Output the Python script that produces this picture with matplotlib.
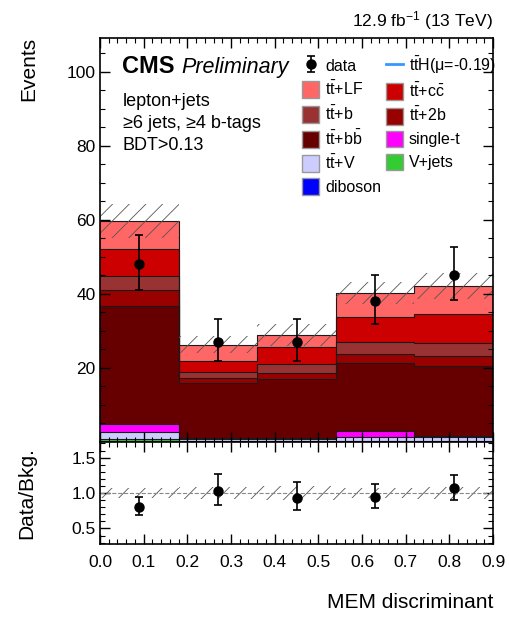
import numpy as np
import matplotlib
matplotlib.use('Agg')
import matplotlib.pyplot as plt
from matplotlib.patches import Patch
from matplotlib.lines import Line2D
from matplotlib.ticker import MultipleLocator, FixedLocator

plt.rcParams['font.family'] = ['Liberation Sans', 'DejaVu Sans']
plt.rcParams['mathtext.fontset'] = 'custom'
plt.rcParams['mathtext.rm'] = 'Liberation Sans'
plt.rcParams['mathtext.it'] = 'Liberation Sans:italic'
plt.rcParams['mathtext.bf'] = 'Liberation Sans:bold'
plt.rcParams['hatch.linewidth'] = 0.6

# MEM discriminant bins
edges = [0.0, 0.18, 0.36, 0.54, 0.72, 0.9]

# background components, bottom to top of the stack
diboson = [0.2, 0.05, 0.05, 0.05, 0.05]
vjets = [0.55, 0.1, 0.1, 0.1, 0.1]
ttv = [1.9, 0.75, 0.7, 1.1, 1.3]
single_t = [2.2, 0.3, 0.3, 1.8, 0.2]
tt_bb = [31.9, 14.8, 15.9, 18.4, 19.0]
tt_2b = [4.3, 1.4, 1.6, 2.3, 2.6]
tt_b = [3.8, 1.4, 2.3, 3.2, 3.5]
tt_cc = [7.3, 3.2, 4.7, 6.8, 7.7]
tt_lf = [7.5, 4.3, 3.3, 6.5, 7.8]
bkg_unc = [4.5, 2.3, 3.0, 3.1, 3.5]

# observed data
data = [48, 27, 27, 38, 45]
data_err_lo = [6.9, 5.2, 5.2, 6.2, 6.7]
data_err_hi = [8.0, 6.3, 6.3, 7.2, 7.8]

procs = [
    (diboson, '#0000FF', 'diboson'),
    (vjets, '#33CC33', 'V+jets'),
    (ttv, '#CCCCFF', r'$\mathrm{t\bar{t}}$+V'),
    (single_t, '#FF00FF', 'single-t'),
    (tt_bb, '#660000', r'$\mathrm{t\bar{t}}$+$\mathrm{b\bar{b}}$'),
    (tt_2b, '#990000', r'$\mathrm{t\bar{t}}$+2b'),
    (tt_b, '#993333', r'$\mathrm{t\bar{t}}$+b'),
    (tt_cc, '#CC0000', r'$\mathrm{t\bar{t}}$+$\mathrm{c\bar{c}}$'),
    (tt_lf, '#FF6666', r'$\mathrm{t\bar{t}}$+LF'),
]

edges = np.array(edges)
centers = 0.5 * (edges[1:] + edges[:-1])
cum = np.cumsum([np.array(p[0]) for p in procs], axis=0)
total = cum[-1]
unc = np.array(bkg_unc)

fig = plt.figure(figsize=(5.1, 6.21), dpi=100)
W, H = 510, 621
ax = fig.add_axes([100 / W, 1 - 442 / H, 393 / W, (442 - 37.7) / H])
rax = fig.add_axes([100 / W, 1 - 544 / H, 393 / W, (544 - 442) / H])

# stack: fill from the top cumulative down, then outlines
for i in range(len(procs) - 1, -1, -1):
    ax.stairs(cum[i], edges, baseline=0, fill=True, color=procs[i][1], lw=0)
for i in range(len(procs)):
    ax.stairs(cum[i], edges, baseline=None, color='#1a1a1a', lw=0.8)

ax.stairs(total + unc, edges, baseline=total - unc, fill=True, facecolor='none',
          edgecolor='#555555', hatch='//', lw=0)

derr = ax.errorbar(centers, data, yerr=[data_err_lo, data_err_hi], fmt='o', color='black',
                   ms=6.5, capsize=3, elinewidth=1.2, capthick=1.2)

ax.set_xlim(0, 0.9)
ax.set_ylim(0, 109.2)

# ratio panel
ratio = np.array(data) / total
rel = unc / total
rax.stairs(1 + rel, edges, baseline=1 - rel, fill=True, facecolor='none',
           edgecolor='#555555', hatch='//', lw=0)
rax.axhline(1.0, color='#888888', lw=0.8, ls='--')
rax.errorbar(centers, ratio, yerr=[np.array(data_err_lo) / total, np.array(data_err_hi) / total],
             fmt='o', color='black', ms=6.5, capsize=3, elinewidth=1.2, capthick=1.2)
rax.set_xlim(0, 0.9)
rax.set_ylim(0.28, 1.72)

for a in (ax, rax):
    a.tick_params(which='both', direction='in', top=True, right=True, labelsize=12.5)
    a.tick_params(which='major', length=7, width=1)
    a.tick_params(which='minor', length=3.5, width=0.8)
    a.xaxis.set_major_locator(MultipleLocator(0.1))
    a.xaxis.set_minor_locator(MultipleLocator(0.02))
    for s in a.spines.values():
        s.set_linewidth(1.2)

ax.yaxis.set_major_locator(FixedLocator([0, 20, 40, 60, 80, 100]))
ax.yaxis.set_minor_locator(MultipleLocator(5))
ax.set_yticklabels(['', '20', '40', '60', '80', '100'])
ax.tick_params(labelbottom=False, pad=3)
rax.yaxis.set_major_locator(FixedLocator([0.5, 1.0, 1.5]))
rax.yaxis.set_minor_locator(MultipleLocator(0.1))
rax.set_yticklabels(['0.5', '1.0', '1.5'])
rax.set_xticklabels(['%.1f' % v for v in rax.get_xticks()])
rax.tick_params(axis='x', pad=8)
rax.tick_params(axis='y', pad=3)

# labels
fig.text(29 / W, 1 - 37 / H, 'Events', rotation=90, ha='center', va='top', fontsize=15)
fig.text(27 / W, 1 - 447 / H, 'Data/Bkg.', rotation=90, ha='center', va='top', fontsize=15)
fig.text(493 / W, 1 - 608 / H, 'MEM discriminant', ha='right', va='baseline', fontsize=15)
fig.text(493 / W, 1 - 26 / H, r'12.9 fb$^{-1}$ (13 TeV)', ha='right', va='baseline', fontsize=12.5)

ax.text(122 / W, 1 - 73.3 / H, 'CMS', transform=fig.transFigure, fontsize=17, fontweight='bold')
ax.text(181 / W, 1 - 73.3 / H, 'Preliminary', transform=fig.transFigure, fontsize=15.5, style='italic')
for txt, yb in [('lepton+jets', 105.7), ('≥6 jets, ≥4 b-tags', 128.3), ('BDT>0.13', 150)]:
    ax.text(123 / W, 1 - yb / H, txt, transform=fig.transFigure, fontsize=13)

# legend
handles = [derr]
labels = ['data']
col1 = [8, 6, 4, 2, 0]
col2 = [7, 5, 3, 1]
for i in col1:
    handles.append(Patch(facecolor=procs[i][1], edgecolor='#999999', lw=1))
    labels.append(procs[i][2])
handles.append(Line2D([], [], color='#3399FF', lw=2))
labels.append(r'$\mathrm{t\bar{t}H}$(μ=-0.19)')
for i in col2:
    handles.append(Patch(facecolor=procs[i][1], edgecolor='#999999', lw=1))
    labels.append(procs[i][2])
ax.legend(handles, labels, ncol=2, loc='upper left', bbox_to_anchor=(0.485, 0.985),
          frameon=False, fontsize=11.5, handlelength=1.1, handleheight=1.25,
          handletextpad=0.35, labelspacing=0.38, columnspacing=0.3, borderpad=0.2)

fig.savefig('out.png', dpi=100)
